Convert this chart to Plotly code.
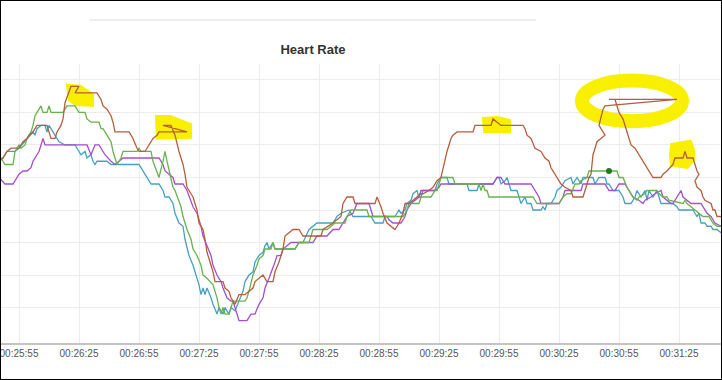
import plotly.graph_objects as go

# Session clock origin: 00:25:45 ; x values are seconds after that
T0 = 25 * 60 + 45
TICK_SECONDS = list(range(10, 341, 30))
TICK_LABELS = ["%02d:%02d:%02d" % ((T0 + s) // 3600, ((T0 + s) % 3600) // 60, (T0 + s) % 60) for s in TICK_SECONDS]
GRID_BPM = [110, 120, 130, 140, 150, 160, 170, 180]

# (seconds, bpm) samples per device
BLUE = [(0,155),(2,156),(4,158),(8,158),(10,159),(13,161),(14,162),(16,163),(17,164),(18,163),(19,165),(21,166),(23,166),(24,164),(25,166),(27,164),(29,162),(30,161),(33,160),(38,160),(40,158),(41,157),(43,158),(44,156),(46,157),(47,155),(48,154),(49,155),(54,155),(56,154),(70,154),(72,152),(74,150),(76,148),(80,148),(82,146),(83,144),(85,144),(87,142),(88,139),(90,136),(92,135),(93,131),(95,126),(97,123),(98,121),(100,117),(101,114),(102,116),(103,114),(104,116),(106,113),(107,111),(109,108),(110,110),(112,108),(113,110),(115,108),(116,110),(118,109),(120,112),(122,115),(123,118),(125,120),(127,121),(128,124),(130,126),(132,127),(133,129),(134,130),(135,128),(137,130),(138,128),(148,128),(150,130),(152,130),(155,134),(159,136),(167,136),(169,138),(171,139),(175,140),(177,138),(186,138),(188,136),(192,136),(193,138),(198,138),(199,139),(200,140),(201,139),(203,140),(204,142),(206,143),(207,145),(209,146),(210,144),(211,144),(212,146),(218,146),(219,148),(220,149),(221,150),(224,150),(225,148),(234,148),(235,146),(239,146),(240,148),(247,148),(249,150),(250,150),(251,148),(253,149),(254,150),(255,148),(256,146),(259,146),(260,144),(261,142),(263,144),(264,142),(266,142),(267,140),(271,140),(272,141),(273,140),(274,142),(276,142),(278,144),(279,146),(281,147),(283,149),(286,150),(287,148),(289,150),(290,149),(291,148),(292,150),(297,150),(298,148),(299,149),(300,150),(303,150),(304,148),(305,148),(307,146),(310,146),(312,144),(313,142),(316,142),(318,144),(319,146),(321,144),(323,146),(324,143),(325,146),(327,144),(329,146),(330,144),(331,142),(337,142),(339,141),(340,140),(347,140),(348,139),(349,138),(350,139),(351,136),(353,136),(354,135),(356,135),(357,134),(359,134),(361,133)]

PURPLE = [(0,150),(3,148),(7,148),(9,150),(10,151),(12,152),(14,152),(16,153),(17,155),(20,158),(21,160),(22,162),(23,160),(44,160),(46,157),(48,160),(50,160),(53,157),(56,155),(58,154),(60,155),(62,156),(80,156),(82,154),(83,152),(85,151),(87,150),(88,148),(92,148),(94,146),(96,143),(97,141),(99,139),(101,135),(102,132),(104,129),(106,126),(107,123),(109,120),(111,118),(112,116),(114,113),(116,112),(117,112),(118,110),(120,106),(124,106),(126,108),(128,108),(130,111),(132,113),(133,116),(135,119),(137,122),(138,124),(139,126),(141,126),(142,128),(144,129),(146,130),(157,130),(159,132),(164,132),(167,134),(170,134),(171,135),(172,136),(174,138),(177,139),(179,142),(185,142),(186,140),(187,138),(194,138),(195,137),(197,136),(201,136),(203,138),(204,140),(206,142),(208,143),(210,144),(211,146),(218,146),(220,147),(221,148),(247,148),(249,150),(251,150),(253,148),(266,148),(268,146),(270,144),(271,142),(280,142),(282,144),(283,146),(291,146),(292,148),(303,148),(305,146),(308,146),(310,148),(313,148),(315,146),(317,144),(320,143),(322,142),(323,143),(326,144),(328,145),(331,146),(332,144),(334,143),(336,142),(337,142),(339,144),(341,146),(342,144),(344,143),(346,142),(351,142),(352,141),(354,139),(356,138),(358,136),(361,135)]

GREEN = [(0,155),(1,156),(3,154),(7,154),(8,158),(10,160),(11,159),(13,160),(14,162),(16,164),(17,166),(18,169),(19,170),(21,172),(22,170),(24,170),(25,172),(26,170),(32,170),(34,172),(38,172),(40,170),(43,170),(44,168),(46,167),(50,167),(51,165),(52,165),(54,163),(56,161),(57,158),(59,154),(61,156),(62,158),(69,158),(70,159),(71,158),(76,158),(77,155),(79,152),(80,150),(82,155),(83,158),(84,155),(86,149),(87,147),(88,146),(90,143),(91,141),(92,138),(94,134),(96,131),(97,128),(99,126),(101,123),(102,120),(104,119),(107,117),(108,115),(109,113),(110,110),(111,108),(112,110),(113,108),(115,108),(116,110),(117,112),(123,112),(124,113),(125,115),(126,118),(127,120),(129,123),(130,125),(132,126),(133,128),(136,128),(137,130),(138,128),(148,128),(150,130),(155,130),(156,132),(157,134),(164,134),(166,135),(168,136),(173,136),(174,138),(176,140),(184,140),(185,138),(202,138),(204,140),(205,142),(210,142),(211,144),(216,144),(218,146),(219,146),(220,148),(221,150),(227,150),(228,148),(240,148),(241,146),(242,148),(243,146),(244,146),(245,144),(267,144),(269,142),(280,142),(282,144),(284,145),(286,145),(288,148),(290,148),(291,149),(294,150),(295,152),(305,152),(309,152),(310,150),(312,150),(314,147),(315,146),(317,144),(319,143),(320,144),(323,145),(324,146),(329,146),(330,145),(332,144),(334,144),(335,143),(342,142),(343,143),(344,142),(346,141),(348,140),(350,139),(352,138),(355,138),(357,136),(359,135),(361,135)]

BROWN = [(0,155),(2,156),(4,158),(6,159),(10,159),(12,161),(14,162),(15,163),(17,164),(19,166),(24,166),(25,164),(26,162),(28,162),(29,164),(31,166),(32,168),(33,173),(35,176),(36,178),(40,178),(38,176),(49,176),(50,175),(51,174),(52,172),(54,171),(56,169),(57,167),(58,164),(65,164),(66,163),(67,162),(69,159),(70,158),(73,158),(74,159),(76,161),(77,162),(79,163),(80,164),(94,164),(82,166),(86,166),(88,163),(90,158),(92,154),(93,151),(94,147),(96,145),(97,144),(98,142),(99,140),(100,136),(102,134),(103,131),(104,127),(106,123),(107,121),(108,118),(112,118),(113,116),(115,115),(116,113),(117,112),(118,111),(120,114),(123,114),(125,115),(127,116),(128,118),(130,119),(132,120),(133,119),(134,118),(137,118),(138,121),(140,124),(142,128),(143,132),(145,133),(147,134),(150,134),(152,132),(161,132),(162,134),(167,136),(171,138),(172,142),(174,144),(177,144),(178,142),(188,142),(189,144),(191,141),(192,139),(194,136),(196,135),(198,134),(200,136),(202,139),(203,142),(205,142),(207,143),(209,144),(211,145),(212,145),(215,146),(217,147),(219,149),(221,150),(222,153),(224,158),(226,162),(227,163),(229,164),(237,164),(238,166),(246,166),(247,168),(251,166),(262,166),(263,165),(264,163),(266,162),(268,159),(271,158),(273,156),(275,155),(276,153),(278,151),(280,149),(281,148),(283,147),(286,146),(287,144),(292,144),(293,146),(295,150),(296,151),(297,157),(299,161),(303,163),(300,166),(302,171),(303,172),(339,174),(305,174),(308,174),(310,170),(312,168),(313,166),(315,162),(316,160),(318,159),(319,158),(321,156),(322,155),(324,153),(327,150),(331,150),(332,151),(334,152),(337,154),(338,156),(342,156),(343,158),(344,156),(347,156),(348,154),(349,152),(350,151),(348,149),(349,147),(351,146),(352,144),(353,143),(356,142),(357,140),(358,140),(359,138),(361,138)]

HOVER_SECOND = 305

SERIES = [
    ("Blue", BLUE, "#47a0c4"),
    ("Purple", PURPLE, "#a54fc8"),
    ("Green", GREEN, "#68b24e"),
    ("Brown", BROWN, "#b55e3e"),
]

# yellow highlighter marks, in (seconds, bpm)
HL_BLOBS = [
    [(34.5,178.2),(40.5,177.9),(46.5,175.4),(46.5,172.3),(38.5,172.6),(35.5,173.9)],
    [(79,168.6),(85.5,168.6),(95.5,166.2),(95.5,162.5),(79.5,162.2)],
    [(242.5,168.0),(249,168.3),(255,167.4),(255,164.3),(243,164.3)],
    [(336.5,160.0),(345.5,161.0),(347,158.5),(347,155.4),(344,153.3),(336.5,153.9),(336,157.0)],
]
HL_RING = (291.5, 341.5, 167.3, 179.8)

fig = go.Figure()
for name, pts, col in SERIES:
    xs = [p[0] for p in pts]
    ys = [p[1] for p in pts]
    fig.add_trace(go.Scatter(x=xs, y=ys, mode="lines", name=name,
                             line=dict(color=col, width=1.3), hoverinfo="skip"))

hv = [p for p in GREEN if p[0] == HOVER_SECOND][0]
fig.add_trace(go.Scatter(x=[hv[0]], y=[hv[1]], mode="markers",
                         marker=dict(color="#1f7a1f", size=6), hoverinfo="skip"))

shapes = []
YEL = "#f8f000"
for poly in HL_BLOBS:
    path = "M " + " L ".join("%s,%s" % p for p in poly) + " Z"
    shapes.append(dict(type="path", path=path, xref="x", yref="y", fillcolor=YEL,
                       line=dict(color=YEL, width=4), layer="between"))
shapes.append(dict(type="circle", xref="x", yref="y", x0=HL_RING[0], x1=HL_RING[1],
                   y0=HL_RING[2], y1=HL_RING[3], line=dict(color=YEL, width=14), layer="between"))

H, W = 380, 722
top_m, bot_m = 64, 37
ph = H - top_m - bot_m
def py(p):
    return (H - bot_m - p) / ph

# faint page separator line above the title
shapes.append(dict(type="line", xref="paper", yref="paper", x0=90 / W, x1=536 / W,
                   y0=py(20), y1=py(20), line=dict(color="#e8e8e8", width=1.5)))
# screenshot frame
shapes.append(dict(type="rect", xref="paper", yref="paper", x0=0, x1=1,
                   y0=py(H), y1=py(0), line=dict(color="black", width=2)))

fig.update_layout(
    width=W, height=H,
    margin=dict(l=0, r=0, t=top_m, b=bot_m),
    paper_bgcolor="white", plot_bgcolor="white",
    showlegend=False,
    title=dict(text="Heart Rate", x=313 / W, xanchor="center", y=1 - 49 / H, yanchor="middle",
               yref="container", font=dict(family="Liberation Sans, Arial", size=13, color="#333", weight="bold")),
    xaxis=dict(range=[0.5, 361.5], tickvals=TICK_SECONDS, ticktext=TICK_LABELS,
               showgrid=True, gridcolor="#ececec", gridwidth=1, zeroline=False,
               showline=True, linecolor="#c4c4c4", linewidth=2, ticks="",
               ticklabeloverflow="allow",
               tickfont=dict(family="Liberation Sans, Arial", size=10, color="#555")),
    yaxis=dict(range=[99.1, 184.9], tickvals=GRID_BPM, showticklabels=False,
               showgrid=True, gridcolor="#ececec", gridwidth=1, zeroline=False, showline=False),
    shapes=shapes,
)

fig.write_html("out.html", config={"displayModeBar": False},
               post_script="document.body.style.margin='0';document.body.style.overflow='hidden';")
